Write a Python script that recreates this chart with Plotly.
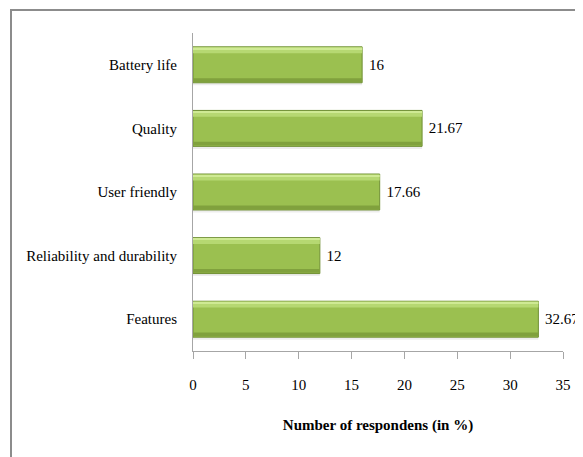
import plotly.graph_objects as go

categories = ["Features", "Reliability and durability", "User friendly", "Quality", "Battery life"]
values = [32.67, 12, 17.66, 21.67, 16]
value_labels = ["32.67", "12", "17.66", "21.67", "16"]
x_ticks = [0, 5, 10, 15, 20, 25, 30, 35]

FONT = "Liberation Serif, Times New Roman, serif"
W = 0.565

fig = go.Figure()
# shadow
fig.add_trace(go.Bar(y=categories, x=values, orientation="h", width=0.05, offset=-W/2 - 0.04,
                     marker=dict(color="rgba(0,0,0,0.07)", line=dict(width=0)),
                     hoverinfo="skip", showlegend=False))
# main bar
fig.add_trace(go.Bar(y=categories, x=values, orientation="h", width=W, offset=-W/2,
                     marker=dict(color="#9BC050", line=dict(color="#6F8F33", width=1)),
                     text=value_labels, texttemplate=" %{text}", textposition="outside",
                     cliponaxis=False,
                     textfont=dict(family=FONT, size=15, color="#000000"),
                     showlegend=False))
# top highlight
fig.add_trace(go.Bar(y=categories, x=values, orientation="h", width=0.09, offset=W/2 - 0.1,
                     marker=dict(color="#B6D872", line=dict(width=0)),
                     hoverinfo="skip", showlegend=False))
fig.add_trace(go.Bar(y=categories, x=values, orientation="h", width=0.025, offset=W/2 - 0.035,
                     marker=dict(color="#CFEA94", line=dict(width=0)),
                     hoverinfo="skip", showlegend=False))
# bottom darker band
fig.add_trace(go.Bar(y=categories, x=values, orientation="h", width=0.06, offset=-W/2 + 0.012,
                     marker=dict(color="#80A13D", line=dict(width=0)),
                     hoverinfo="skip", showlegend=False))

# figure is placed at (8, 8) by page margin; plot area spans x 193..563, y 33..351 in the window
fig.update_layout(
    width=575, height=449,
    autosize=False,
    margin=dict(l=185, r=20, t=25, b=106),
    barmode="overlay",
    paper_bgcolor="white", plot_bgcolor="white",
    font=dict(family=FONT, size=15, color="#000000"),
    xaxis=dict(range=[0, 35], tickvals=x_ticks, ticktext=[str(v) for v in x_ticks],
               showgrid=False, zeroline=False, showline=True, linecolor="#A6A6A6", linewidth=1,
               ticks="outside", ticklen=7, tickcolor="#A6A6A6", ticklabelstandoff=13,
               tickfont=dict(family=FONT, size=15),
               title=dict(text="<b>Number of respondens (in %)</b>", standoff=27,
                          font=dict(family=FONT, size=15))),
    yaxis=dict(categoryorder="array", categoryarray=categories, showgrid=False, zeroline=False,
               showline=True, linecolor="#A6A6A6", linewidth=1, ticks="",
               ticklabelstandoff=12, tickfont=dict(family=FONT, size=15)),
    shapes=[dict(type="rect", xref="paper", yref="paper",
                 x0=(11 - 193) / 370, x1=(600 - 193) / 370,
                 y0=(351 - 480) / 318, y1=(351 - 10) / 318,
                 line=dict(color="#8C8C8C", width=2), fillcolor="rgba(0,0,0,0)", layer="below")],
)

fig.write_html("out.html")
